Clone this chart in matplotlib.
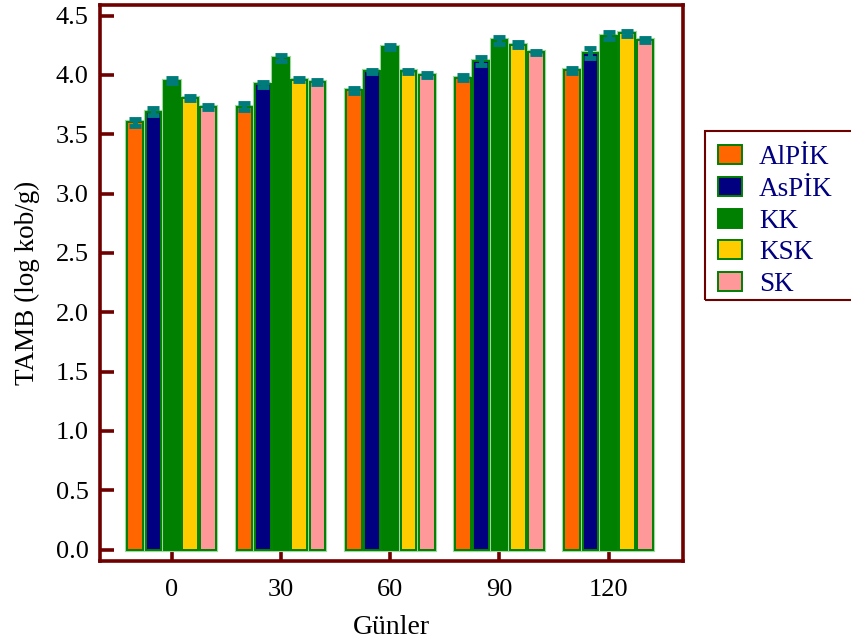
import matplotlib
matplotlib.use("Agg")
import matplotlib.pyplot as plt
from matplotlib.patches import Rectangle
import numpy as np

plt.rcParams['font.family'] = ['Liberation Serif', 'DejaVu Serif']

days = ["0", "30", "60", "90", "120"]
groups = ["AlPİK", "AsPİK", "KK", "KSK", "SK"]

alpik = [3.60, 3.73, 3.87, 3.975, 4.04]
aspik = [3.69, 3.92, 4.03, 4.115, 4.185]
kk    = [3.95, 4.14, 4.235, 4.29, 4.33]
ksk   = [3.805, 3.96, 4.03, 4.255, 4.35]
sk    = [3.73, 3.94, 4.00, 4.19, 4.295]

alpik_err = [0.03, 0.03, 0.02, 0.02, 0.02]
aspik_err = [0.03, 0.02, 0.015, 0.035, 0.04]
kk_err    = [0.02, 0.025, 0.02, 0.03, 0.03]
ksk_err   = [0.02, 0.015, 0.015, 0.02, 0.02]
sk_err    = [0.02, 0.02, 0.015, 0.015, 0.02]

values = [alpik, aspik, kk, ksk, sk]
errors = [alpik_err, aspik_err, kk_err, ksk_err, sk_err]
colors = ["#FF6600", "#000080", "#008000", "#FFCC00", "#FF9999"]

frame = "#6E0000"
err_col = "#007B7B"

fig = plt.figure(figsize=(8.51, 6.4), dpi=100)
ax = fig.add_axes([0.117, 0.1234, 0.6856, 0.8686])

x = np.arange(len(days))
pitch = 0.167
width = 0.145
for i, (vals, errs, col) in enumerate(zip(values, errors, colors)):
    pos = x + (i - 2) * pitch
    ax.bar(pos, vals, width, color=col, edgecolor="#9FD89F", linewidth=3.0, zorder=2)
    ax.bar(pos, vals, width, color=col, edgecolor="#008000", linewidth=1.4,
           label=groups[i], zorder=3)
    ax.errorbar(pos, vals, yerr=errs, fmt='none', ecolor=err_col,
                elinewidth=3.5, capsize=4, capthick=3.5, zorder=4)

ax.set_xlim(-0.66, 4.68)
ax.set_ylim(-0.097, 4.588)
ax.set_xticks(x)
ax.set_xticklabels(days)
ax.set_yticks(np.arange(0, 4.51, 0.5))
ax.set_yticklabels([f"{v:.1f}" for v in np.arange(0, 4.51, 0.5)])

for s in ax.spines.values():
    s.set_color(frame)
    s.set_linewidth(2.6)

ax.tick_params(axis='both', direction='in', length=10, width=2.6, color=frame,
               labelsize=19, top=False, right=False)
ax.tick_params(axis='x', pad=13)
ax.tick_params(axis='y', pad=8)

ax.set_xlabel("Günler", fontsize=20, labelpad=10)
ax.set_ylabel("TAMB (log kob/g)", fontsize=19.5, labelpad=11)

# legend box, running past the right edge of the figure
fig.patches.append(Rectangle((705 / 851, 1 - 300 / 640), 0.3, 169 / 640,
                             transform=fig.transFigure, fill=False,
                             edgecolor=frame, linewidth=1.5))

handles, labels = ax.get_legend_handles_labels()
leg = fig.legend(handles, labels, loc='upper left',
                 bbox_to_anchor=(718 / 851, 1 - 145 / 640),
                 frameon=False, fontsize=19.5, handlelength=0.9, handleheight=0.7,
                 handletextpad=0.62, labelspacing=0.25, borderpad=0.0,
                 borderaxespad=0.0)
for t in leg.get_texts():
    t.set_color("#000080")

fig.savefig("out.png", dpi=100)
